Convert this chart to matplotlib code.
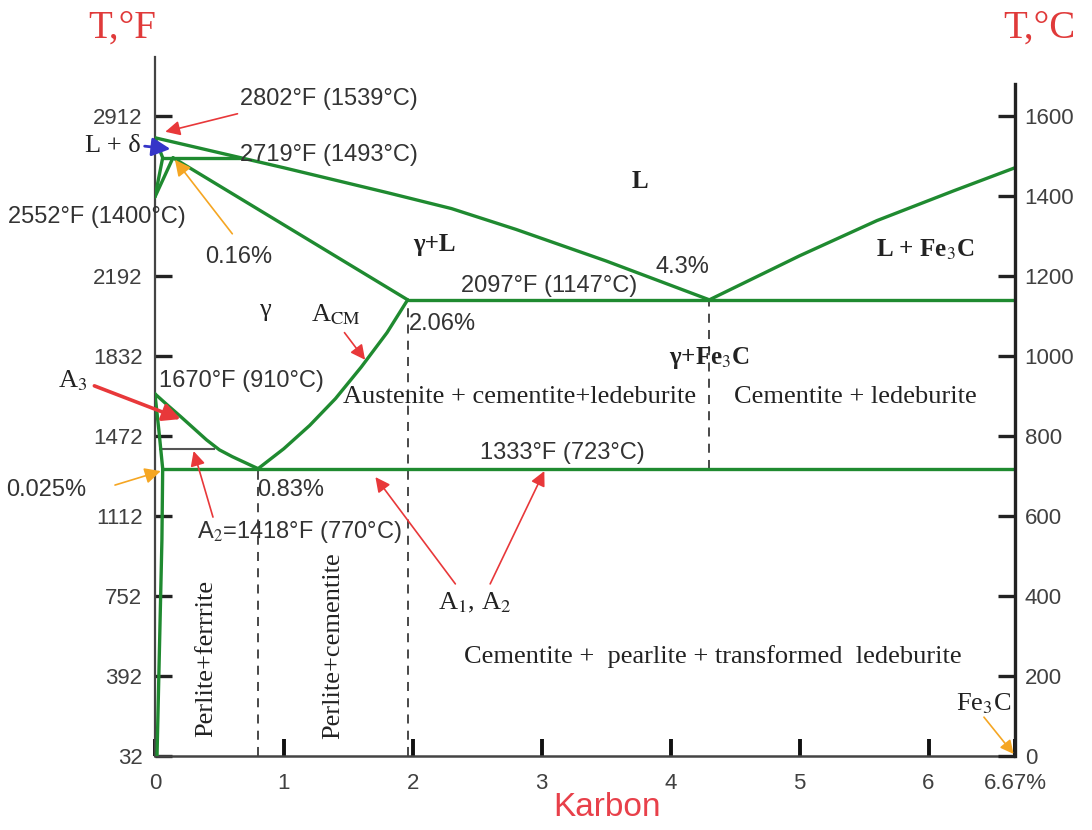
import matplotlib.pyplot as plt

plt.rcParams['mathtext.fontset'] = 'stix'

# wt% carbon (x) and temperature in degC (y)
liq_x = [0, 1.0, 1.8, 2.3, 2.8, 3.5, 4.30]
liq_t = [1545, 1470, 1408, 1368, 1316, 1237, 1140]
liq2_x = [4.30, 5.0, 5.6, 6.2, 6.67]
liq2_t = [1140, 1250, 1338, 1413, 1470]
sol_x = [0.14, 1.96]
sol_t = [1495, 1140]
delta_sol_x = [0, 0.06]
delta_sol_t = [1545, 1495]
delta1_x = [0, 0.06]
delta1_t = [1397, 1495]
delta2_x = [0, 0.14]
delta2_t = [1397, 1495]
perit_x = [0.06, 0.66]
perit_t = [1495, 1495]
eut_x = [1.96, 6.67]
eut_t = [1140, 1140]
eutd_x = [0.06, 6.67]
eutd_t = [718, 718]
a3_x = [0, 0.1, 0.2, 0.3, 0.4, 0.5, 0.6, 0.7, 0.80]
a3_t = [905, 876, 848, 819, 790, 765, 748, 733, 718]
acm_x = [0.80, 1.0, 1.2, 1.4, 1.6, 1.8, 1.96]
acm_t = [718, 768, 826, 893, 972, 1058, 1140]
ag_x = [0, 0.03, 0.06]
ag_t = [905, 815, 718]
solvus_x = [0.06, 0.054, 0.016]
solvus_t = [718, 540, 0]
a2_x = [0.04, 0.46]
a2_t = [767, 767]

dash_x = [0.80, 1.96, 4.30]
dash_top = [718, 1140, 1140]
dash_bot = [0, 0, 718]

c_ticks = [0, 200, 400, 600, 800, 1000, 1200, 1400, 1600]
f_ticks = [0, 200, 400, 600, 800, 1000, 1200, 1600]
f_labels = ['32', '392', '752', '1112', '1472', '1832', '2192', '2912']
x_ticks = [0, 1, 2, 3, 4, 5, 6, 6.67]
x_labels = ['0', '1', '2', '3', '4', '5', '6', '6.67%']

green = '#1f8a30'
red = '#e8383a'
orange = '#f5a623'
blue = '#3535c8'
gray = '#3a3a3a'
sans = 'Liberation Sans'
serif = 'Liberation Serif'

fig = plt.figure(figsize=(10.92, 8.30), dpi=100)
ax = fig.add_axes([0.1419, 0.0892, 0.7875, 0.8422])
ax.set_xlim(0, 6.67)
ax.set_ylim(0, 1747)

for xs, ts in [(liq_x, liq_t), (liq2_x, liq2_t), (sol_x, sol_t),
               (delta_sol_x, delta_sol_t), (delta1_x, delta1_t),
               (delta2_x, delta2_t), (perit_x, perit_t), (eut_x, eut_t),
               (eutd_x, eutd_t), (a3_x, a3_t), (acm_x, acm_t),
               (ag_x, ag_t), (solvus_x, solvus_t)]:
    ax.plot(xs, ts, color=green, lw=2.4, solid_capstyle='round',
            solid_joinstyle='round', zorder=3)
ax.plot(a2_x, a2_t, color='#555555', lw=1.5, zorder=2)

for x, t0, t1 in zip(dash_x, dash_bot, dash_top):
    ax.plot([x, x], [t0, t1], color=gray, lw=1.3, ls=(0, (5, 4)), zorder=1)

# axes / ticks
ax.spines['top'].set_visible(False)
ax.spines['right'].set_visible(False)
ax.spines['left'].set_color('#444444')
ax.spines['left'].set_linewidth(1.6)
ax.spines['bottom'].set_color('#444444')
ax.spines['bottom'].set_linewidth(1.8)
ax.set_yticks(f_ticks)
ax.set_yticklabels(f_labels, fontsize=16, family=sans, color='#404040')
ax.set_xticks(x_ticks)
ax.set_xticklabels(x_labels, fontsize=16, family=sans, color='#404040')
ax.tick_params(axis='y', direction='in', length=12, width=2.4, color='#222222', pad=9)
ax.tick_params(axis='x', direction='in', length=12, width=2.8, color='#111111', pad=12)

ax2 = ax.twinx()
ax2.set_ylim(0, 1747)
for s in ['left', 'top', 'bottom']:
    ax2.spines[s].set_visible(False)
ax2.spines['right'].set_bounds(0, 1680)
ax2.spines['right'].set_linewidth(2.4)
ax2.spines['right'].set_color('#222222')
ax2.set_yticks(c_ticks)
ax2.set_yticklabels([str(c) for c in c_ticks], fontsize=16, family=sans, color='#404040')
ax2.tick_params(axis='y', direction='in', length=12, width=2.4, color='#222222', pad=7)

# titles
fig.text(0.112, 0.966, 'T,°F', color='#e03a3a', fontsize=28, family=serif,
         ha='center', va='center')
fig.text(0.952, 0.966, 'T,°C', color='#e03a3a', fontsize=28, family=serif,
         ha='center', va='center')
fig.text(0.556, 0.027, 'Karbon', color='#e8404a', fontsize=24, family=sans,
         ha='center', va='center')

num = dict(fontsize=17, family=sans, color='#333333')
reg = dict(fontsize=19, family=serif, color='#222222')
bold = dict(fontsize=18, family=serif, color='#222222', weight='bold')


def arrow(xy, xytext, color, lw=1.2, ms=22):
    ax.annotate('', xy=xy, xytext=xytext, annotation_clip=False,
                arrowprops=dict(arrowstyle='-|>', color=color, lw=lw,
                                mutation_scale=ms, shrinkA=0, shrinkB=0))


ax.text(0.66, 1642, '2802°F (1539°C)', va='center', **num)
arrow((0.08, 1560), (0.64, 1605), red)
ax.text(-0.11, 1525, 'L + δ', ha='right', va='center', **reg)
arrow((0.12, 1517), (-0.08, 1524), blue, lw=2, ms=28)
ax.text(0.66, 1503, '2719°F (1493°C)', va='center', **num)
ax.text(-1.14, 1347, '2552°F (1400°C)', va='center', **num)
ax.text(0.39, 1247, '0.16%', va='center', **num)
arrow((0.155, 1490), (0.60, 1305), orange, ms=24)

ax.text(3.76, 1435, 'L', ha='center', va='center', **bold)
ax.text(2.17, 1277, 'γ+L', ha='center', va='center', **bold)
ax.text(5.97, 1265, 'L + Fe$_3$C', ha='center', va='center', **bold)
ax.text(4.09, 1222, '4.3%', ha='center', va='center', **num)
ax.text(3.06, 1175, '2097°F (1147°C)', ha='center', va='center', **num)
ax.text(1.97, 1080, '2.06%', va='center', **num)
ax.text(0.85, 1115, 'γ', ha='center', va='center', **reg)
ax.text(1.40, 1102, 'A$_{\\rm CM}$', ha='center', va='center', **reg)
arrow((1.63, 990), (1.47, 1058), red)
ax.text(4.30, 995, 'γ+Fe$_3$C', ha='center', va='center', **bold)

ax.text(-0.64, 937, 'A$_3$', ha='center', va='center', **reg)
arrow((0.20, 842), (-0.47, 925), red, lw=2.6, ms=26)
ax.text(0.67, 937, '1670°F (910°C)', ha='center', va='center', **num)
ax.text(2.83, 897, 'Austenite + cementite+ledeburite', ha='center', va='center', **reg)
ax.text(5.43, 897, 'Cementite + ledeburite', ha='center', va='center', **reg)
ax.text(3.16, 757, '1333°F (723°C)', ha='center', va='center', **num)
ax.text(0.79, 665, '0.83%', va='center', **num)
ax.text(-0.84, 665, '0.025%', ha='center', va='center', **num)
arrow((0.045, 712), (-0.31, 677), orange, ms=24)
ax.text(1.12, 560, 'A$_2$=1418°F (770°C)', ha='center', va='center', **num)
arrow((0.30, 762), (0.45, 597), red)

ax.text(2.48, 383, 'A$_1$, A$_2$', ha='center', va='center', **reg)
arrow((1.71, 697), (2.33, 430), red)
arrow((3.02, 712), (2.60, 430), red)

ax.text(0.40, 243, 'Perlite+ferrrite', rotation=90, ha='center', va='center', **reg)
ax.text(1.38, 275, 'Perlite+cementite', rotation=90, ha='center', va='center', **reg)
ax.text(4.33, 248, 'Cementite +  pearlite + transformed  ledeburite',
        ha='center', va='center', **reg)
ax.text(6.43, 130, 'Fe$_3$C', ha='center', va='center', **reg)
arrow((6.66, 5), (6.43, 97), orange, ms=20)

fig.savefig('out.png', dpi=100, facecolor='white')
